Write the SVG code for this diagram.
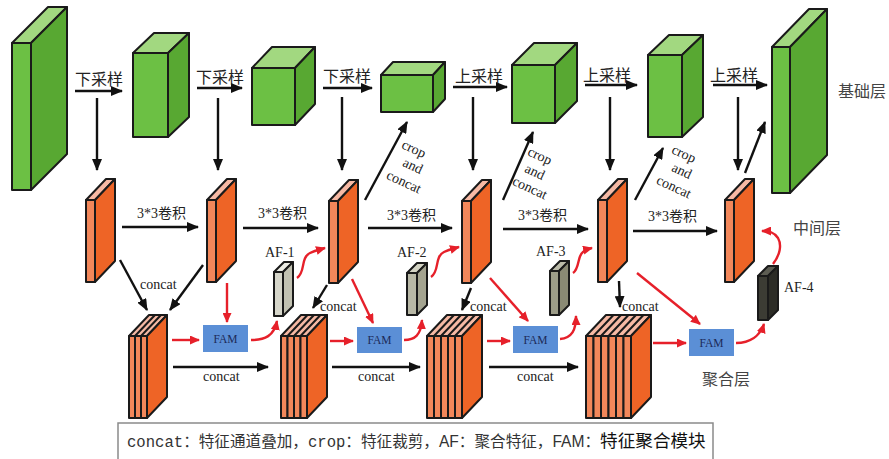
<svg xmlns="http://www.w3.org/2000/svg" width="889" height="459" viewBox="0 0 889 459">
<defs>
<style>
.s{stroke:#1a1a1a;stroke-width:2;stroke-linejoin:round}
.gf{fill:#6cc044}.gs{fill:#58a832}.gt{fill:#a2d880}
.of{fill:#f2875a}.os{fill:#ee6426}.ot{fill:#f6b9a4}
.fam{fill:#5b8fd6}
.famt{font-family:"Liberation Serif",serif;font-size:11.5px;fill:#1c2a58;text-anchor:middle}
.bk{fill:none;stroke:#111;stroke-width:2.4}
.rd{fill:none;stroke:#e6202a;stroke-width:2.4}
.lab{font-family:"Liberation Serif","Noto Sans CJK SC",serif;fill:#222}
.cn{font-size:16px}
.cv{font-size:14px}
.ct{font-size:14px}
.cr{font-size:14px}
.lay{font-family:"Liberation Serif","Noto Sans CJK SC",serif;font-size:16px;fill:#444}
.ser{font-family:"Liberation Serif","Noto Sans CJK SC",serif}
.nar{font-family:"Liberation Sans Narrow","Liberation Sans","Noto Sans CJK SC",sans-serif}
</style>
<marker id="ab" viewBox="0 0 12 10" refX="11" refY="5" markerWidth="12" markerHeight="10" markerUnits="userSpaceOnUse" orient="auto"><path d="M0,0 L12,5 L0,10 z" fill="#111"/></marker>
<marker id="ar" viewBox="0 0 10 9" refX="9" refY="4.5" markerWidth="10" markerHeight="9" markerUnits="userSpaceOnUse" orient="auto"><path d="M0,0 L10,4.5 L0,9 z" fill="#e6202a"/></marker>
</defs>
<rect width="889" height="459" fill="#ffffff"/>

<!-- base layer (green) -->
<g id="base1" class="s"><rect class="gf" x="12" y="43" width="19" height="147"/><polygon class="gt" points="12,43 31,43 67,7 48,7"/><polygon class="gs" points="31,43 67,7 67,154 31,190"/></g>
<g id="base2" class="s"><rect class="gf" x="133" y="53" width="35" height="84"/><polygon class="gt" points="133,53 168,53 189,33 154,33"/><polygon class="gs" points="168,53 189,33 189,117 168,137"/></g>
<g id="base3" class="s"><rect class="gf" x="252" y="68" width="43" height="57"/><polygon class="gt" points="252,68 295,68 315,47 272,47"/><polygon class="gs" points="295,68 315,47 315,104 295,125"/></g>
<g id="base4" class="s"><rect class="gf" x="381" y="75" width="52" height="37"/><polygon class="gt" points="381,75 433,75 445,62 393,62"/><polygon class="gs" points="433,75 445,62 445,99 433,112"/></g>
<g id="base5" class="s"><rect class="gf" x="512" y="65" width="43" height="58"/><polygon class="gt" points="512,65 555,65 577,43 534,43"/><polygon class="gs" points="555,65 577,43 577,101 555,123"/></g>
<g id="base6" class="s"><rect class="gf" x="648" y="55" width="34" height="82"/><polygon class="gt" points="648,55 682,55 703,35 669,35"/><polygon class="gs" points="682,55 703,35 703,117 682,137"/></g>
<g id="base7" class="s"><rect class="gf" x="772" y="47" width="18" height="146"/><polygon class="gt" points="772,47 790,47 827,9 809,9"/><polygon class="gs" points="790,47 827,9 827,155 790,193"/></g>

<!-- middle layer (orange slabs) -->
<g id="mid1" class="s"><rect class="of" x="86" y="200" width="9" height="82"/><polygon class="ot" points="86,200 95,200 115,179 106,179"/><polygon class="os" points="95,200 115,179 115,261 95,282"/></g>
<g id="mid2" class="s"><rect class="of" x="207" y="200" width="9" height="82"/><polygon class="ot" points="207,200 216,200 236,179 227,179"/><polygon class="os" points="216,200 236,179 236,261 216,282"/></g>
<g id="mid3" class="s"><rect class="of" x="329" y="201" width="9" height="82"/><polygon class="ot" points="329,201 338,201 358,180 349,180"/><polygon class="os" points="338,201 358,180 358,262 338,283"/></g>
<g id="mid4" class="s"><rect class="of" x="462" y="201" width="9" height="82"/><polygon class="ot" points="462,201 471,201 491,180 482,180"/><polygon class="os" points="471,201 491,180 491,262 471,283"/></g>
<g id="mid5" class="s"><rect class="of" x="598" y="200" width="9" height="82"/><polygon class="ot" points="598,200 607,200 627,179 618,179"/><polygon class="os" points="607,200 627,179 627,261 607,282"/></g>
<g id="mid6" class="s"><rect class="of" x="725" y="200" width="9" height="82"/><polygon class="ot" points="725,200 734,200 754,179 745,179"/><polygon class="os" points="734,200 754,179 754,261 734,282"/></g>

<!-- AF blocks -->
<g id="af1"><g class="s"><rect x="274" y="272" width="9" height="44" fill="#d6d6ca"/><polygon points="274,272 283,272 293,262 284,262" fill="#ececE4"/><polygon points="283,272 293,262 293,306 283,316" fill="#c2c2b2"/></g><text class="lab ct" x="265" y="257">AF-1</text></g>
<g id="af2"><g class="s"><rect x="407" y="273" width="10" height="42" fill="#b8b8a6"/><polygon points="407,273 417,273 427,263 417,263" fill="#d4d4c4"/><polygon points="417,273 427,263 427,305 417,315" fill="#a4a490"/></g><text class="lab ct" x="397" y="257">AF-2</text></g>
<g id="af3"><g class="s"><rect x="550" y="271" width="9" height="44" fill="#9c9c88"/><polygon points="550,271 559,271 569,261 560,261" fill="#bcbcaa"/><polygon points="559,271 569,261 569,305 559,315" fill="#8a8a74"/></g><text class="lab ct" x="536" y="256">AF-3</text></g>
<g id="af4"><g class="s"><rect x="758" y="276" width="10" height="44" fill="#3c3c34"/><polygon points="758,276 768,276 778,266 768,266" fill="#5c5c52"/><polygon points="768,276 778,266 778,310 768,320" fill="#2c2c26"/></g><text class="lab ct" x="784" y="292">AF-4</text></g>

<!-- aggregation layer stacks -->
<g id="stack1" class="s">
<polygon class="ot" points="129,336 147,336 167,315 149,315"/>
<path d="M135,336 L155,315 M141,336 L161,315" fill="none"/>
<rect class="of" x="129" y="336" width="6" height="82"/><rect class="of" x="135" y="336" width="6" height="82"/><rect class="of" x="141" y="336" width="6" height="82"/>
<polygon class="os" points="147,336 167,315 167,397 147,418"/>
</g>
<g id="stack2" class="s">
<polygon class="ot" points="281,336 307,336 327,315 301,315"/>
<path d="M287.5,336 L307.5,315 M294,336 L314,315 M300.5,336 L320.5,315" fill="none"/>
<rect class="of" x="281" y="336" width="6.5" height="82"/><rect class="of" x="287.5" y="336" width="6.5" height="82"/><rect class="of" x="294" y="336" width="6.5" height="82"/><rect class="of" x="300.5" y="336" width="6.5" height="82"/>
<polygon class="os" points="307,336 327,315 327,397 307,418"/>
</g>
<g id="stack3" class="s">
<polygon class="ot" points="427,336 462,336 482,315 447,315"/>
<path d="M434,336 L454,315 M441,336 L461,315 M448,336 L468,315 M455,336 L475,315" fill="none"/>
<rect class="of" x="427" y="336" width="7" height="82"/><rect class="of" x="434" y="336" width="7" height="82"/><rect class="of" x="441" y="336" width="7" height="82"/><rect class="of" x="448" y="336" width="7" height="82"/><rect class="of" x="455" y="336" width="7" height="82"/>
<polygon class="os" points="462,336 482,315 482,397 462,418"/>
</g>
<g id="stack4" class="s">
<polygon class="ot" points="586,336 631,336 651,315 606,315"/>
<path d="M593.5,336 L613.5,315 M601,336 L621,315 M608.5,336 L628.5,315 M616,336 L636,315 M623.5,336 L643.5,315" fill="none"/>
<rect class="of" x="586" y="336" width="7.5" height="82"/><rect class="of" x="593.5" y="336" width="7.5" height="82"/><rect class="of" x="601" y="336" width="7.5" height="82"/><rect class="of" x="608.5" y="336" width="7.5" height="82"/><rect class="of" x="616" y="336" width="7.5" height="82"/><rect class="of" x="623.5" y="336" width="7.5" height="82"/>
<polygon class="os" points="631,336 651,315 651,397 631,418"/>
</g>

<!-- FAM modules -->
<g id="fam1"><rect class="fam" x="203" y="325" width="45" height="27"/><text class="famt" x="225.5" y="342.5">FAM</text></g>
<g id="fam2"><rect class="fam" x="357" y="327" width="45" height="26"/><text class="famt" x="379.5" y="344">FAM</text></g>
<g id="fam3"><rect class="fam" x="513" y="326" width="45" height="27"/><text class="famt" x="535.5" y="343.5">FAM</text></g>
<g id="fam4"><rect class="fam" x="689" y="329" width="45" height="27"/><text class="famt" x="711.5" y="346.5">FAM</text></g>

<!-- connectors -->
<g id="connectors">
<g marker-end="url(#ab)" class="bk">
<line x1="75" y1="91" x2="122" y2="91"/>
<line x1="197" y1="88" x2="242" y2="88"/>
<line x1="323" y1="88" x2="372" y2="88"/>
<line x1="453" y1="87" x2="507" y2="87"/>
<line x1="585" y1="85" x2="637" y2="85"/>
<line x1="713" y1="85" x2="767" y2="85"/>
<line x1="97" y1="98" x2="97" y2="170"/>
<line x1="218" y1="98" x2="218" y2="170"/>
<line x1="342" y1="97" x2="342" y2="170"/>
<line x1="473" y1="97" x2="473" y2="170"/>
<line x1="610" y1="97" x2="610" y2="170"/>
<line x1="738" y1="97" x2="738" y2="170"/>
<line x1="122" y1="227" x2="198" y2="227"/>
<line x1="243" y1="228" x2="318" y2="228"/>
<line x1="368" y1="228" x2="452" y2="228"/>
<line x1="503" y1="229" x2="588" y2="229"/>
<line x1="633" y1="231" x2="717" y2="231"/>
<line x1="365" y1="200" x2="407" y2="122"/>
<line x1="503" y1="200" x2="533" y2="132"/>
<line x1="635" y1="200" x2="663" y2="148"/>
<line x1="745" y1="173" x2="765" y2="122"/>
<line x1="120" y1="260" x2="147" y2="310"/>
<line x1="203" y1="265" x2="170" y2="310"/>
<line x1="327" y1="285" x2="313" y2="308"/>
<line x1="471" y1="288" x2="462" y2="310"/>
<line x1="619" y1="281" x2="620" y2="307"/>
<line x1="173" y1="367" x2="268" y2="367"/>
<line x1="332" y1="367" x2="420" y2="367"/>
<line x1="489" y1="367" x2="578" y2="367"/>
</g>
<g marker-end="url(#ar)" class="rd">
<line x1="227" y1="283" x2="227" y2="322"/>
<line x1="352" y1="279" x2="373" y2="323"/>
<line x1="490" y1="278" x2="528" y2="321"/>
<line x1="637" y1="273" x2="700" y2="324"/>
<line x1="172" y1="340" x2="199" y2="340"/>
<line x1="330" y1="341" x2="353" y2="341"/>
<line x1="487" y1="341" x2="510" y2="341"/>
<line x1="653" y1="343" x2="686" y2="343"/>
<path d="M251,340 C265,340 274,336 277,321"/>
<path d="M404,340 C415,340 421,335 422,320"/>
<path d="M560,339 C572,338 576,330 576,316"/>
<path d="M736,343 C750,343 760,336 764,324"/>
<path d="M297,278 C306,272 300,258 310,253 C314,251 318,250 325,248"/>
<path d="M431,277 C440,271 434,257 444,252 C448,250 452,249 459,247"/>
<path d="M573,273 C580,268 577,256 583,252 C585,250 588,249 592,248"/>
<path d="M773,264 C780,255 782,245 778,238 C774,232 769,231 762,231"/>
</g>
</g>

<!-- connector labels -->
<g id="labels" class="lab">
<text class="cn" x="75" y="85">下采样</text>
<text class="cn" x="196" y="83">下采样</text>
<text class="cn" x="323" y="82">下采样</text>
<text class="cn" x="455" y="82">上采样</text>
<text class="cn" x="583" y="81">上采样</text>
<text class="cn" x="710" y="81">上采样</text>
<text class="cv" x="137" y="218">3*3卷积</text>
<text class="cv" x="258" y="218">3*3卷积</text>
<text class="cv" x="387" y="220">3*3卷积</text>
<text class="cv" x="518" y="220">3*3卷积</text>
<text class="cv" x="648" y="221">3*3卷积</text>
<text class="ct" x="140" y="289">concat</text>
<text class="ct" x="320" y="311">concat</text>
<text class="ct" x="470" y="311">concat</text>
<text class="ct" x="622" y="311">concat</text>
<text class="ct" x="203" y="381">concat</text>
<text class="ct" x="358" y="381">concat</text>
<text class="ct" x="517" y="381">concat</text>
<g class="cr" text-anchor="middle">
<text transform="translate(412,153) rotate(25)">crop</text>
<text transform="translate(411,170) rotate(25)">and</text>
<text transform="translate(402,186) rotate(25)">concat</text>
<text transform="translate(538,160) rotate(25)">crop</text>
<text transform="translate(533,176) rotate(25)">and</text>
<text transform="translate(528,192) rotate(25)">concat</text>
<text transform="translate(682,158) rotate(25)">crop</text>
<text transform="translate(680,175) rotate(25)">and</text>
<text transform="translate(672,191) rotate(25)">concat</text>
</g>
</g>

<g id="layer-names" class="lay">
<text x="838" y="97">基础层</text>
<text x="793" y="234">中间层</text>
<text x="702" y="385">聚合层</text>
</g>

<g id="legend">
<rect x="118" y="423" width="595" height="40" fill="#fff" stroke="#8a8a8a" stroke-width="1.5"/>
<text x="127" y="447" font-size="15.6" fill="#333" font-family="'Liberation Mono','Noto Sans CJK SC',monospace">concat：<tspan class="ser">特征通道叠加，</tspan>crop：<tspan class="ser">特征裁剪，</tspan><tspan class="nar">AF：</tspan><tspan class="ser">聚合特征，</tspan><tspan class="nar">FAM：</tspan><tspan font-family="'Noto Sans CJK SC',sans-serif" font-size="17.6" fill="#111">特征聚合模块</tspan></text>
</g>
</svg>
